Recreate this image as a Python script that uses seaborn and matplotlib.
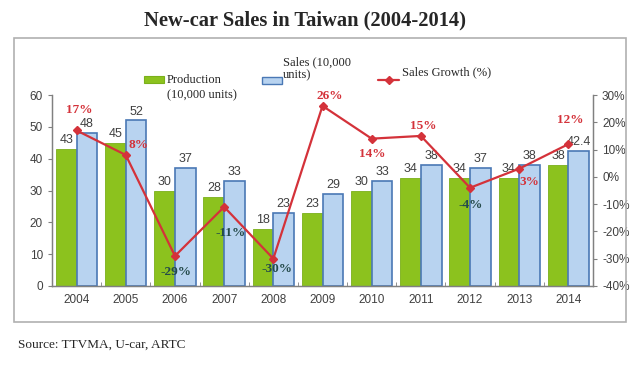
import numpy as np
import pandas as pd
import matplotlib
matplotlib.use("Agg")
import matplotlib.pyplot as plt
from matplotlib.patches import Rectangle
from matplotlib.lines import Line2D
import seaborn as sns

years = ["2004", "2005", "2006", "2007", "2008", "2009", "2010", "2011", "2012", "2013", "2014"]
production = [43, 45, 30, 28, 18, 23, 30, 34, 34, 34, 38]
sales = [48, 52, 37, 33, 23, 29, 33, 38, 37, 38, 42.4]
growth = [17, 8, -29, -11, -30, 26, 14, 15, -4, 3, 12]

# label offsets for growth labels (pixels), purely cosmetic
growth_offsets = [(3, 20), (13, 10), (1, -16), (6, -26), (4, -10), (7, 10),
                  (1, -15), (2, 10), (1, -17), (10, -13), (2, 24)]

W, H = 640, 389
green = "#8CC21E"
blue = "#B8D3F0"
blue_edge = "#4A78B5"
red = "#D4323A"
teal = "#244A4A"

sns.set_style("white")
plt.rcParams["font.family"] = ["Liberation Sans", "DejaVu Sans"]
serif = ["Liberation Serif", "DejaVu Serif"]

df = pd.DataFrame({
    "year": years * 2,
    "value": production + sales,
    "series": ["Production"] * len(years) + ["Sales"] * len(years),
})

fig = plt.figure(figsize=(W / 100, H / 100), dpi=100)


def fx(px):
    return px / W


def fy(py):
    return 1 - py / H


ax = fig.add_axes([fx(52), fy(286), fx(593) - fx(52), fy(95) - fy(286)])

sns.barplot(data=df, x="year", y="value", hue="series", ax=ax,
            palette=[green, blue], width=0.84, gap=0, legend=False,
            saturation=1)
for bar in ax.containers[1]:
    bar.set_edgecolor(blue_edge)
    bar.set_linewidth(1.2)
for bar in ax.containers[0]:
    bar.set_edgecolor("#7AB01A")
    bar.set_linewidth(0.6)

ax.bar_label(ax.containers[0], labels=[f"{v:g}" for v in production],
             padding=2, fontsize=9, color="#404040")
ax.bar_label(ax.containers[1], labels=[f"{v:g}" for v in sales],
             padding=2, fontsize=9, color="#404040")

ax.set_ylim(0, 60)
ax.set_yticks(range(0, 61, 10))
ax.set_xlim(-0.5, len(years) - 0.5)
ax.set_xlabel("")
ax.set_ylabel("")
ax.tick_params(axis="y", direction="out", length=3, color="#808080",
               labelsize=8.5, labelcolor="#404040", left=True)
ax.tick_params(axis="x", length=0, labelsize=8.5, labelcolor="#404040", pad=6)
ax.set_xticks(np.arange(len(years)) + 0.5, minor=True)
ax.tick_params(axis="x", which="minor", direction="in", length=3,
               color="#808080", bottom=True)
ax.spines["top"].set_visible(False)
for side in ["left", "bottom", "right"]:
    ax.spines[side].set_color("#808080")
    ax.spines[side].set_linewidth(1)

ax2 = ax.twinx()
ax2.plot(np.arange(len(years)), growth, color=red, lw=1.6,
         marker="D", markersize=4.5, markerfacecolor=red, markeredgecolor=red)
ax2.set_ylim(-40, 30)
ax2.set_yticks(range(-40, 31, 10))
ax2.set_yticklabels([f"{t}%" for t in range(-40, 31, 10)])
ax2.tick_params(axis="y", direction="out", length=3, color="#808080",
                labelsize=8.5, labelcolor="#404040", right=True)
ax2.spines["top"].set_visible(False)
for side in ["left", "bottom", "right"]:
    ax2.spines[side].set_color("#808080")

for i, g in enumerate(growth):
    dx, dy = growth_offsets[i]
    col = red if g > 0 else teal
    ax2.annotate(f"{g}%", (i, g), xytext=(dx, dy), textcoords="offset pixels",
                 ha="center", va="center", fontsize=9.5, fontweight="bold",
                 color=col, family=serif)

# chart frame
fig.patches.append(Rectangle((fx(14), fy(322)), fx(626) - fx(14), fy(38) - fy(322),
                             transform=fig.transFigure, fill=False,
                             edgecolor="#B0B0B0", linewidth=1.2))

# legend, laid out by hand
fig.patches.append(Rectangle((fx(144), fy(83)), fx(164) - fx(144), fy(76) - fy(83),
                             transform=fig.transFigure, facecolor=green,
                             edgecolor="#7AB01A", linewidth=0.8))
fig.text(fx(167), fy(80), "Production", fontsize=9, family=serif,
         va="center", ha="left")
fig.text(fx(167), fy(95), "(10,000 units)", fontsize=9, family=serif,
         va="center", ha="left")
fig.patches.append(Rectangle((fx(262), fy(84)), fx(282) - fx(262), fy(77) - fy(84),
                             transform=fig.transFigure, facecolor=blue,
                             edgecolor=blue_edge, linewidth=1))
fig.text(fx(283), fy(62), "Sales (10,000", fontsize=9, family=serif,
         va="center", ha="left")
fig.text(fx(283), fy(75), "units)", fontsize=9, family=serif,
         va="center", ha="left")
fig.lines.append(Line2D([fx(378), fx(388.5), fx(399)], [fy(80)] * 3,
                        transform=fig.transFigure, color=red, lw=1.6,
                        marker="D", markersize=4.5, markevery=[1],
                        markerfacecolor=red, markeredgecolor=red))
fig.text(fx(402), fy(72), "Sales Growth (%)", fontsize=9, family=serif,
         va="center", ha="left")

fig.text(fx(305), fy(20), "New-car Sales in Taiwan (2004-2014)", ha="center",
         va="center", fontsize=14.8, fontweight="bold", family=serif)
fig.text(fx(18), fy(345), "Source: TTVMA, U-car, ARTC", ha="left", va="center",
         fontsize=9.5, family=serif)

fig.savefig("out.png", dpi=100)
